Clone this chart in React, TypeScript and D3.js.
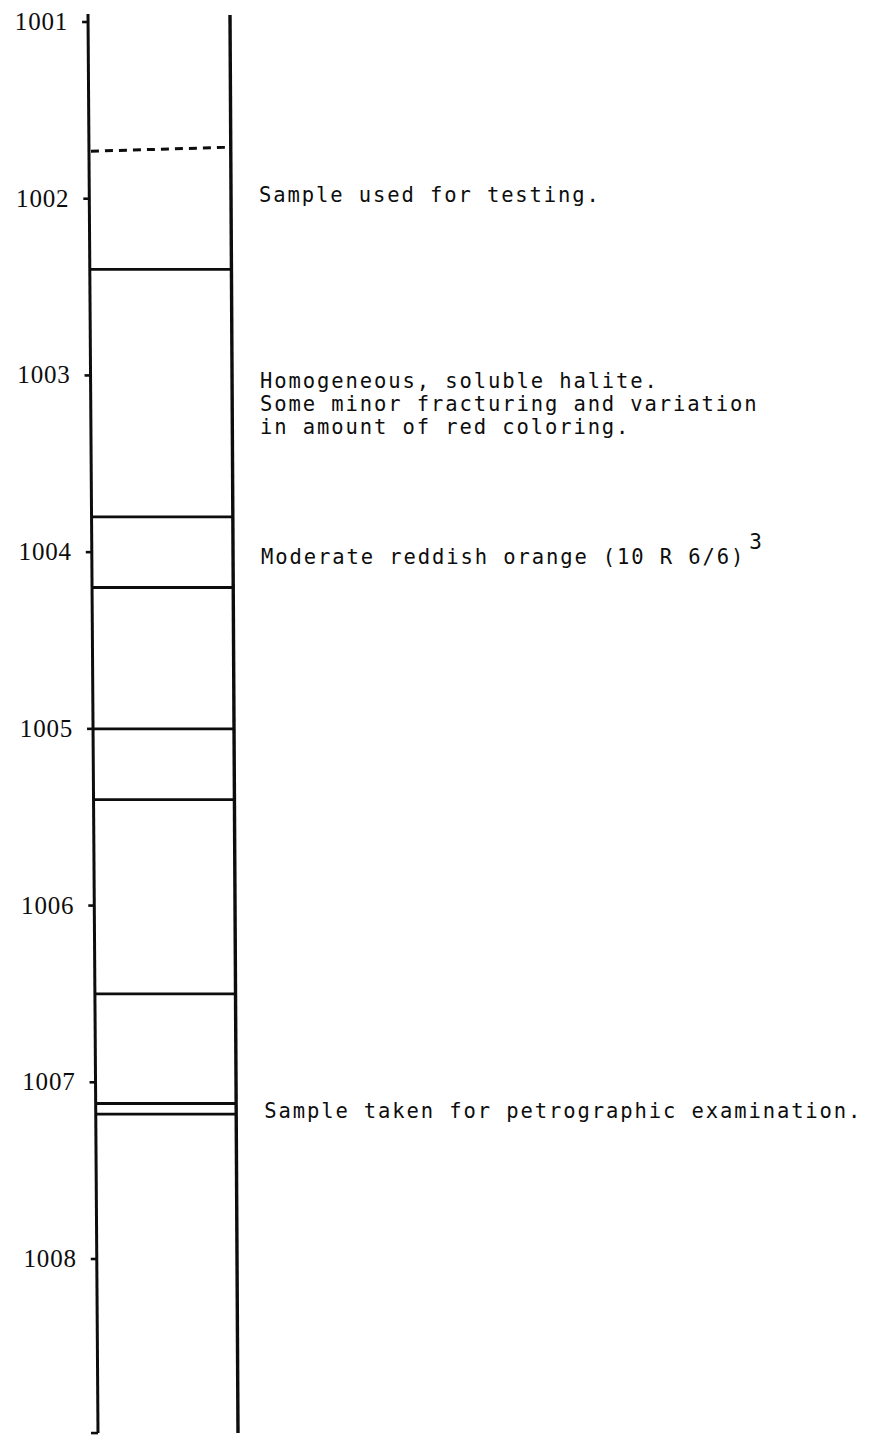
import React, { useEffect, useRef } from 'react';
import * as d3 from 'd3';

// depth ticks (feet)
const depthTicks = [1001, 1002, 1003, 1004, 1005, 1006, 1007, 1008];

// bed boundaries (feet)
const dashedBoundaries = [1001.72];
const solidBoundaries = [1002.4, 1003.8, 1004.2, 1005.0, 1005.4, 1006.5, 1007.12, 1007.18];

// column extent
const columnTop = 1000.955;
const columnBottom = 1008.985;

// notes beside the column
const notes = [
  { depth: 1001.98, lines: ['Sample used for testing.'], sup: '' },
  {
    depth: 1003.03,
    lines: [
      'Homogeneous, soluble halite.',
      'Some minor fracturing and variation',
      'in amount of red coloring.',
    ],
    sup: '',
  },
  { depth: 1004.03, lines: ['Moderate reddish orange (10 R 6/6)'], sup: '3' },
  { depth: 1007.16, lines: ['Sample taken for petrographic examination.'], sup: '' },
];

const W = 877;
const H = 1435;

const App = () => {
  const svgRef = useRef(null);

  useEffect(() => {
    const yScale = d3.scaleLinear().domain([1001, 1008]).range([22, 1259]);
    // hand drawn edges lean a little to the right going down
    const xLeft = d3.scaleLinear().domain([columnTop, columnBottom]).range([88, 98]);
    const xRight = d3.scaleLinear().domain([columnTop, columnBottom]).range([230, 238]);

    const svg = d3.select(svgRef.current);
    svg.selectAll('*').remove();

    const ink = '#0d0d0d';

    // column edges
    svg
      .append('line')
      .attr('x1', xLeft(columnTop))
      .attr('y1', yScale(columnTop))
      .attr('x2', xLeft(columnBottom))
      .attr('y2', yScale(columnBottom))
      .attr('stroke', ink)
      .attr('stroke-width', 3);
    svg
      .append('line')
      .attr('x1', xRight(columnTop))
      .attr('y1', yScale(columnTop) + 1)
      .attr('x2', xRight(columnBottom))
      .attr('y2', yScale(columnBottom))
      .attr('stroke', ink)
      .attr('stroke-width', 3.4);
    // little hook at the bottom of the left edge
    svg
      .append('line')
      .attr('x1', xLeft(columnBottom) - 7)
      .attr('y1', yScale(columnBottom))
      .attr('x2', xLeft(columnBottom))
      .attr('y2', yScale(columnBottom))
      .attr('stroke', ink)
      .attr('stroke-width', 2.6);

    // ticks and depth labels
    const tickG = svg.append('g');
    tickG
      .selectAll('line')
      .data(depthTicks)
      .enter()
      .append('line')
      .attr('x1', (d) => xLeft(d) - 6)
      .attr('x2', (d) => xLeft(d))
      .attr('y1', (d) => yScale(d))
      .attr('y2', (d) => yScale(d))
      .attr('stroke', ink)
      .attr('stroke-width', 2.6);
    tickG
      .selectAll('text')
      .data(depthTicks)
      .enter()
      .append('text')
      .attr('x', (d) => xLeft(d) - 20)
      .attr('y', (d) => yScale(d) + 8)
      .attr('text-anchor', 'end')
      .attr('font-family', 'Liberation Serif, serif')
      .attr('font-size', 25)
      .attr('letter-spacing', 0.8)
      .attr('fill', ink)
      .text((d) => d);

    // boundaries
    svg
      .selectAll('.solid')
      .data(solidBoundaries)
      .enter()
      .append('line')
      .attr('class', 'solid')
      .attr('x1', (d) => xLeft(d))
      .attr('x2', (d) => xRight(d))
      .attr('y1', (d) => yScale(d))
      .attr('y2', (d) => yScale(d))
      .attr('stroke', ink)
      .attr('stroke-width', 2.8);
    svg
      .selectAll('.dashed')
      .data(dashedBoundaries)
      .enter()
      .append('line')
      .attr('class', 'dashed')
      .attr('x1', (d) => xLeft(d) + 2)
      .attr('x2', (d) => xRight(d) - 1)
      .attr('y1', (d) => yScale(d) + 2)
      .attr('y2', (d) => yScale(d) - 2)
      .attr('stroke', ink)
      .attr('stroke-width', 3)
      .attr('stroke-dasharray', '8,6');

    // notes
    const noteG = svg
      .selectAll('.note')
      .data(notes)
      .enter()
      .append('text')
      .attr('class', 'note')
      .attr('font-family', 'DejaVu Sans Mono, monospace')
      .attr('font-size', 20.5)
      .attr('letter-spacing', 1.9)
      .attr('fill', ink);
    noteG.each(function (n) {
      const t = d3.select(this);
      const x0 = xRight(n.depth) + 28;
      const y0 = yScale(n.depth) + 7;
      n.lines.forEach((line, i) => {
        t.append('tspan').attr('x', x0).attr('y', y0 + i * 23).text(line);
      });
      if (n.sup) {
        t.append('tspan')
          .attr('dx', 4)
          .attr('dy', -15)
          .attr('font-size', 21)
          .text(n.sup);
      }
    });
  }, []);

  return (
    <svg
      ref={svgRef}
      width={W}
      height={H}
      style={{ position: 'absolute', left: 0, top: 0, background: '#fff' }}
    />
  );
};

export default App;
